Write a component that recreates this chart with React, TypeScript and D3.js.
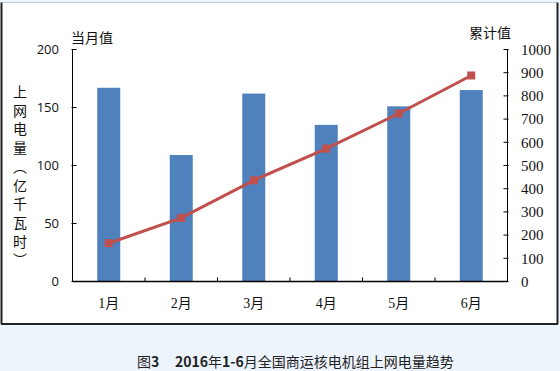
import React from "react";
import * as d3 from "d3";

const categories = ["1月", "2月", "3月", "4月", "5月", "6月"];
const monthly = [167, 109, 162, 135, 151, 165];
const cumulative = [165, 274, 436, 573, 724, 888];
const leftTicks = [0, 50, 100, 150, 200];
const rightTicks = [0, 100, 200, 300, 400, 500, 600, 700, 800, 900, 1000];
const yTitleChars = ["上", "网", "电", "量", "︵", "亿", "千", "瓦", "时", "︶"];

const W = 560;
const H = 371;
const plot = { left: 72.5, right: 507.5, top: 49.5, bottom: 281.5 };

export default function App() {
  const x = d3.scaleBand<string>().domain(categories).range([plot.left, plot.right]);
  const yL = d3.scaleLinear().domain([0, 200]).range([plot.bottom, plot.top]);
  const yR = d3.scaleLinear().domain([0, 1000]).range([plot.bottom, plot.top]);
  const barW = 23;
  const line = d3
    .line<number>()
    .x((_, i) => (x(categories[i]) as number) + x.bandwidth() / 2)
    .y((d) => yR(d));

  const bounds = categories.map((c) => x(c) as number).concat([plot.right]);

  return (
    <div style={{ position: "fixed", left: 0, top: 0 }}>
      <svg width={W} height={H} style={{ display: "block" }}>
        <rect x={0} y={0} width={W} height={H} fill="#EEF4FC" />
        <rect x={1.5} y={2.5} width={556} height={321.5} fill="#ffffff" stroke="none" />
        <line x1={1.5} y1={2.5} x2={557.5} y2={2.5} stroke="#c8ccd2" />
        <line x1={1.5} y1={2.5} x2={1.5} y2={324} stroke="#222" strokeWidth={2} />
        <line x1={557.5} y1={2.5} x2={557.5} y2={324} stroke="#222" strokeWidth={2} />
        <line x1={1} y1={324} x2={558} y2={324} stroke="#222" strokeWidth={2} />

        {monthly.map((v, i) => (
          <rect
            key={categories[i]}
            x={(x(categories[i]) as number) + x.bandwidth() / 2 - barW / 2}
            y={yL(v)}
            width={barW}
            height={plot.bottom - yL(v)}
            fill="#4F81BD"
          />
        ))}

        <path d={line(cumulative) || ""} fill="none" stroke="#C0504D" strokeWidth={3} />
        {cumulative.map((v, i) => (
          <rect
            key={"m" + i}
            x={(x(categories[i]) as number) + x.bandwidth() / 2 - 4}
            y={yR(v) - 4}
            width={8}
            height={8}
            fill="#C0504D"
          />
        ))}

        {/* axes */}
        <line x1={plot.left} y1={plot.top} x2={plot.left} y2={plot.bottom} stroke="#000" />
        <line x1={plot.right} y1={plot.top} x2={plot.right} y2={plot.bottom} stroke="#000" />
        <line x1={plot.left} y1={plot.bottom} x2={plot.right} y2={plot.bottom} stroke="#000" strokeWidth={1.5} />
        {leftTicks.map((t) => (
          <g key={"l" + t}>
            <line x1={plot.left - 1} x2={plot.left + 4} y1={yL(t)} y2={yL(t)} stroke="#000" />
            <text
              x={59}
              y={yL(t)}
              dy="0.35em"
              textAnchor="end"
              fontFamily="'Open Sans', 'DejaVu Sans', sans-serif"
              fontSize={13}
              fill="#111"
            >
              {t}
            </text>
          </g>
        ))}
        {rightTicks.map((t) => (
          <g key={"r" + t}>
            <line x1={plot.right - 4} x2={plot.right + 1} y1={yR(t)} y2={yR(t)} stroke="#000" />
            <text
              x={521}
              y={yR(t)}
              dy="0.35em"
              textAnchor="start"
              fontFamily="'Liberation Serif', 'DejaVu Serif', serif"
              fontSize={15}
              fill="#111"
            >
              {t}
            </text>
          </g>
        ))}
        {bounds.slice(1, -1).map((b, i) => (
          <line key={"t" + i} x1={b} x2={b} y1={plot.bottom} y2={plot.bottom - 4} stroke="#000" />
        ))}
        {categories.map((c) => (
          <text
            key={"c" + c}
            x={(x(c) as number) + x.bandwidth() / 2}
            y={308}
            textAnchor="middle"
            fontFamily="'Liberation Serif', 'Noto Sans CJK SC', serif"
            fontSize={14}
            fill="#111"
          >
            {c}
          </text>
        ))}

        <text x={71} y={43} fontFamily="'Noto Sans CJK SC', sans-serif" fontSize={14} fill="#111">
          当月值
        </text>
        <text x={469} y={38} fontFamily="'Noto Sans CJK SC', sans-serif" fontSize={14} fill="#111">
          累计值
        </text>
        {yTitleChars.map((ch, i) => (
          <text
            key={"y" + i}
            x={20}
            y={97 + i * 18.7}
            textAnchor="middle"
            fontFamily="'Noto Sans CJK SC', sans-serif"
            fontSize={14}
            fill="#111"
          >
            {ch}
          </text>
        ))}

        <text x={137} y={367} fontFamily="'Noto Sans CJK SC', sans-serif" fontSize={14} fill="#222">
          <tspan>图</tspan>
          <tspan fontWeight="bold">3</tspan>
          <tspan x={175} fontWeight="bold">2016</tspan>
          <tspan>年</tspan>
          <tspan fontWeight="bold">1-6</tspan>
          <tspan>月全国商运核电机组上网电量趋势</tspan>
        </text>
      </svg>
    </div>
  );
}
